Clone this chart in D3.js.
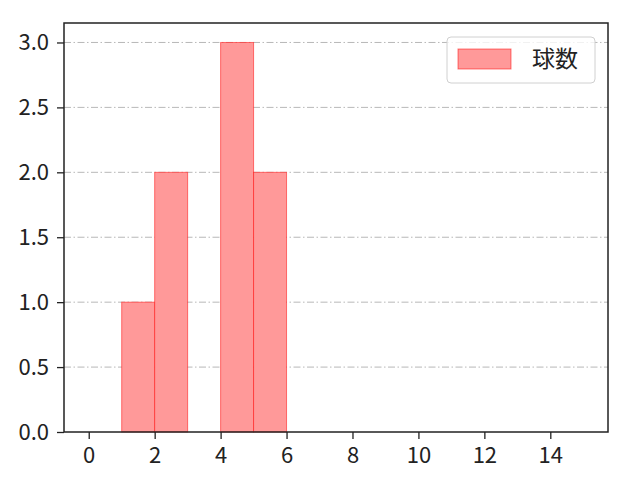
<!DOCTYPE html>
<html lang="ja">
<head>
<meta charset="utf-8">
<script src="https://d3js.org/d3.v7.min.js"></script>
<style>
body{margin:0;background:#fff;}
</style>
</head>
<body>
<div id="chart"></div>
<script>
// histogram bins (left edge, right edge) and counts
var binStart = [1, 2, 4, 5]
var binEnd = [2, 3, 5, 6]
var counts = [1, 2, 3, 2]
var xTicks = [0, 2, 4, 6, 8, 10, 12, 14]
var yTicks = [0, 0.5, 1.0, 1.5, 2.0, 2.5, 3.0]
var seriesName = "球数"

var w = 640, h = 480
var padL = 64, padR = 608, padT = 23, padB = 432
var fontFam = "'Noto Sans CJK JP', 'DejaVu Sans', sans-serif"

var svg = d3.select("#chart").append("svg")
    .attr("width", w).attr("height", h)

var xScale = d3.scaleLinear().domain([-0.75, 15.75]).range([padL, padR])
var yScale = d3.scaleLinear().domain([0, 3.15]).range([padB, padT])

// grid
svg.append("g").selectAll("line")
    .data(yTicks.filter(function(d){ return d > 0 }))
    .enter().append("line")
    .attr("x1", padL).attr("x2", padR)
    .attr("y1", function(d){ return yScale(d) })
    .attr("y2", function(d){ return yScale(d) })
    .attr("stroke", "#b0b0b0")
    .attr("stroke-width", 0.9)
    .attr("stroke-dasharray", "7,2.5,1.5,2.5")

// bars
svg.append("g").selectAll("rect")
    .data(counts)
    .enter().append("rect")
    .attr("x", function(d, i){ return xScale(binStart[i]) })
    .attr("width", function(d, i){ return xScale(binEnd[i]) - xScale(binStart[i]) })
    .attr("y", function(d){ return yScale(d) })
    .attr("height", function(d){ return yScale(0) - yScale(d) })
    .attr("fill", "rgb(255,153,153)")
    .attr("stroke", "rgba(255,0,0,0.5)")
    .attr("stroke-width", 1)

// axes
var xAxis = d3.axisBottom(xScale).tickValues(xTicks).tickSize(7).tickPadding(8)
var yAxis = d3.axisLeft(yScale).tickValues(yTicks).tickSize(7).tickPadding(8)
    .tickFormat(d3.format(".1f"))

var gx = svg.append("g").attr("transform", "translate(0," + padB + ")").call(xAxis)
var gy = svg.append("g").attr("transform", "translate(" + padL + ",0)").call(yAxis)
;[gx, gy].forEach(function(g){
    g.attr("font-size", 22).attr("font-family", fontFam)
    g.select(".domain").remove()
    g.selectAll("line").attr("stroke", "#222").attr("stroke-width", 1.3)
    g.selectAll("text").attr("fill", "#222")
})

// frame
svg.append("rect")
    .attr("x", padL).attr("y", padT)
    .attr("width", padR - padL).attr("height", padB - padT)
    .attr("fill", "none").attr("stroke", "#222").attr("stroke-width", 1.5)

// legend
var lg = svg.append("g")
lg.append("rect")
    .attr("x", 447).attr("y", 37).attr("width", 148).attr("height", 46)
    .attr("rx", 4)
    .attr("fill", "rgba(255,255,255,0.8)").attr("stroke", "#d0d0d0")
lg.append("rect")
    .attr("x", 458).attr("y", 49).attr("width", 53).attr("height", 20)
    .attr("fill", "rgb(255,153,153)").attr("stroke", "rgba(255,0,0,0.5)")
lg.append("text")
    .attr("x", 532).attr("y", 67)
    .attr("font-family", fontFam).attr("font-size", 23)
    .attr("fill", "#222")
    .text(seriesName)
</script>
</body>
</html>
